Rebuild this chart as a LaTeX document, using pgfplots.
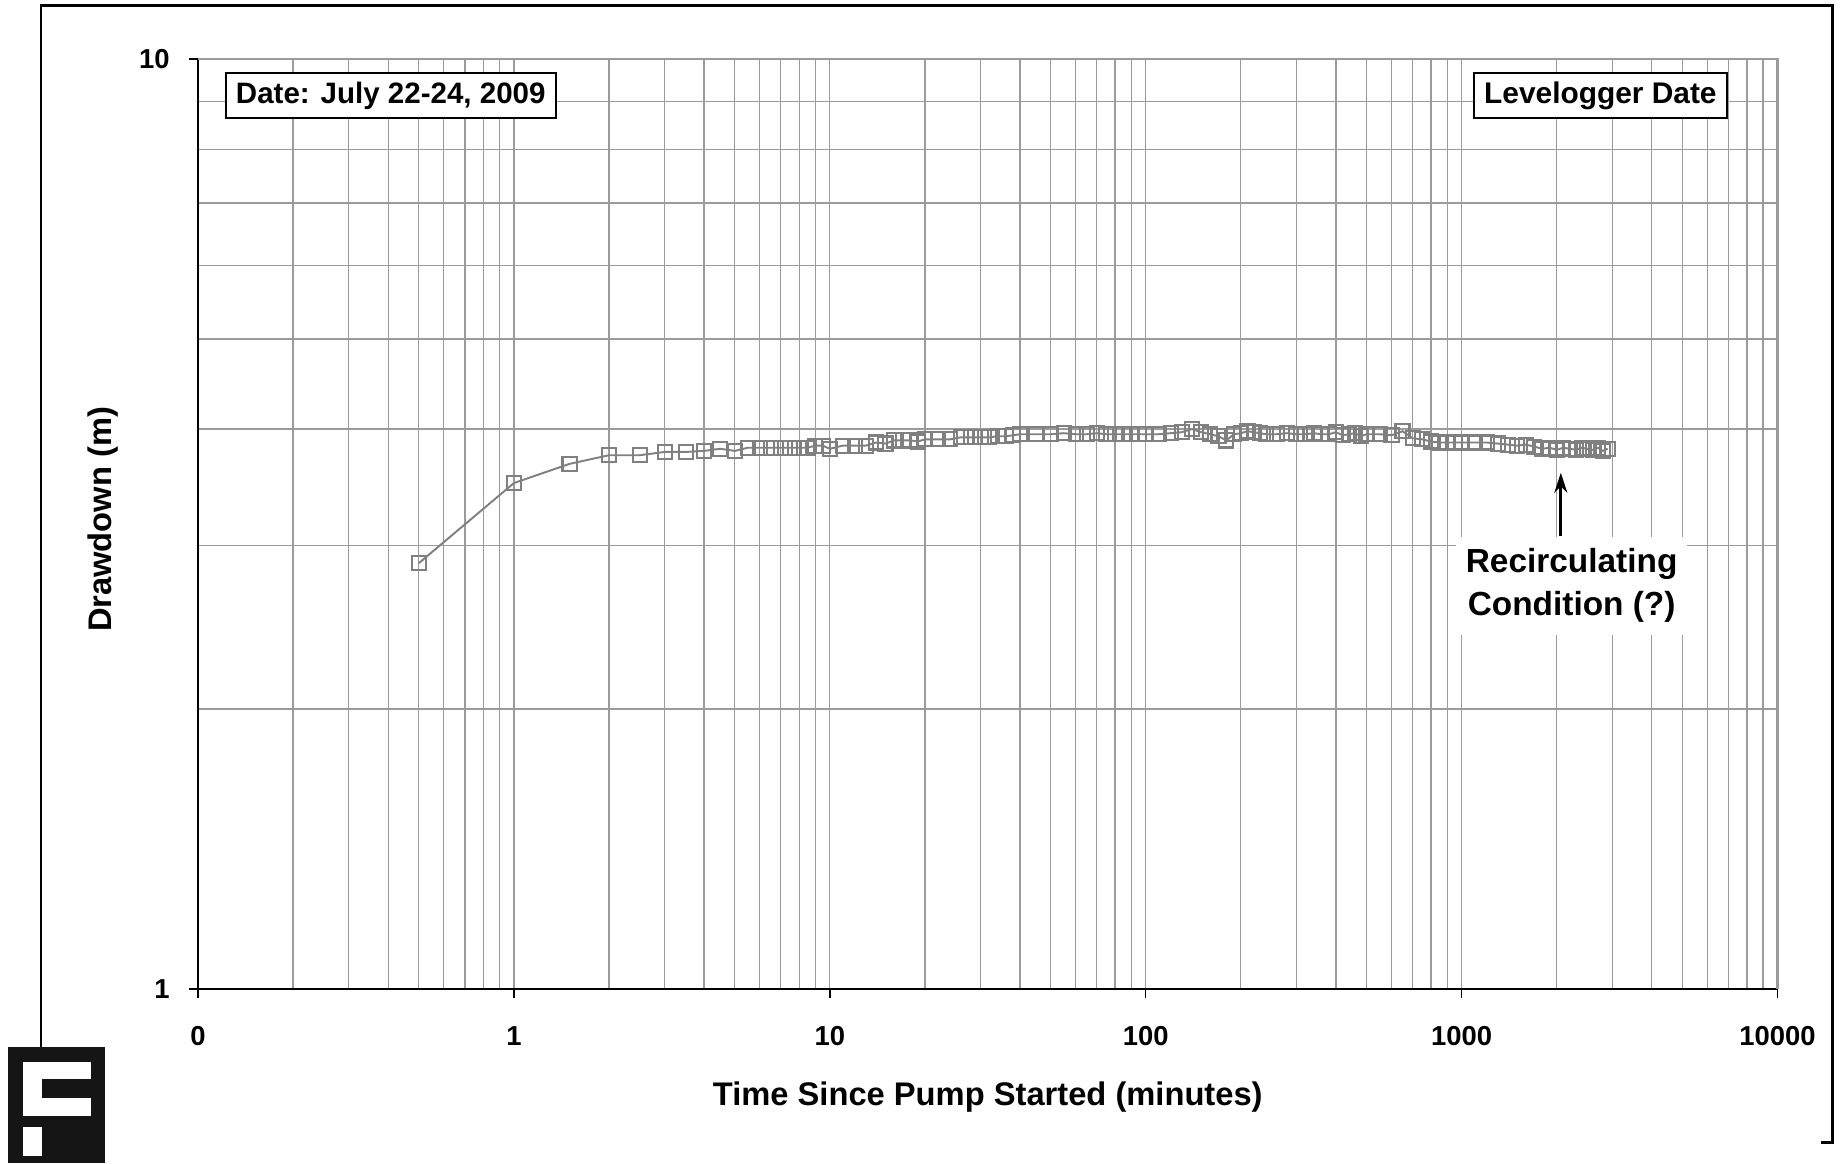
\documentclass[border=0pt]{standalone}
\usepackage{fontspec}
\setmainfont{Liberation Sans}
\usepackage{pgfplots}
\pgfplotsset{compat=1.18}
\usepackage{pgfplotstable}
\usetikzlibrary{arrows.meta}

\definecolor{series}{RGB}{128,128,128}
\definecolor{gridc}{RGB}{155,155,155}
\definecolor{logo}{RGB}{21,21,21}

% time since pump started (min), drawdown (m)
\pgfplotstableread{
t d
0.5 2.87
1 3.50
1.5 3.67
2 3.75
2.5 3.75
3 3.78
3.5 3.78
4 3.79
4.5 3.81
5 3.79
5.5 3.82
6 3.82
6.5 3.82
7 3.82
7.5 3.82
8 3.82
8.5 3.82
9 3.84
9.5 3.84
10 3.81
11 3.84
12 3.84
13 3.84
14 3.87
15 3.86
16 3.89
17 3.89
18 3.89
19 3.88
20 3.90
22 3.90
24 3.90
26 3.92
28 3.92
30 3.92
32 3.92
34 3.93
36 3.93
38 3.94
40 3.95
45 3.95
50 3.95
55 3.96
60 3.95
65 3.95
70 3.96
75 3.95
80 3.95
85 3.95
90 3.95
95 3.95
100 3.95
110 3.95
120 3.96
130 3.97
140 4.00
150 3.97
160 3.95
170 3.93
180 3.89
190 3.95
200 3.96
210 3.98
220 3.97
230 3.96
240 3.95
260 3.95
280 3.96
300 3.95
320 3.95
340 3.96
360 3.95
380 3.95
400 3.97
420 3.94
440 3.95
460 3.96
480 3.93
500 3.95
550 3.95
600 3.94
650 3.98
700 3.91
750 3.90
800 3.88
850 3.87
900 3.87
950 3.87
1000 3.87
1100 3.87
1200 3.87
1300 3.86
1400 3.85
1500 3.84
1600 3.85
1700 3.83
1800 3.81
1900 3.82
2000 3.80
2100 3.82
2200 3.81
2300 3.80
2400 3.82
2500 3.81
2600 3.80
2700 3.82
2800 3.79
2900 3.81
}\drawdown

\begin{document}
\begin{tikzpicture}
\useasboundingbox (-1.98,-1.74) rectangle (16.45,9.89);
\begin{axis}[
    at={(0,0)}, anchor=south west,
    scale only axis, width=15.795cm, height=9.30cm,
    xmode=log, ymode=log,
    xmin=0.1, xmax=10000, ymin=1, ymax=10,
    axis x line*=bottom, axis y line*=left,
    axis line style={black, line width=0.6pt},
    xtick={0.1,1,10,100,1000,10000},
    xticklabels={0,1,10,100,1000,10000},
    ytick={1,10}, yticklabels={1,10},
    tick align=outside, major tick length=0.09cm, minor tick length=0pt,
    tick style={black, line width=0.4pt},
    grid=both,
    major grid style={gridc, line width=0.35pt},
    minor grid style={gridc, line width=0.35pt},
    ticklabel style={font=\fontsize{7.8}{9}\selectfont\bfseries},
    /pgf/number format/assume math mode=true,
    xticklabel style={anchor=north, yshift=-0.16cm},
    yticklabel style={anchor=east, xshift=-0.07cm},
    xlabel={Time Since Pump Started (minutes)},
    ylabel={Drawdown (m)},
    label style={font=\fontsize{9.3}{11}\selectfont\bfseries},
    xlabel style={at={(axis description cs:0.5,0)}, anchor=center, yshift=-1.08cm},
    ylabel style={at={(axis description cs:-0.0601,0.505)}, anchor=center},
    clip=false,
]
\addplot[series, line width=0.55pt, mark=square, mark size=2pt,
    mark options={draw=series, fill=none, line width=0.6pt}] table[x=t, y=d] {\drawdown};

\draw[gridc, line width=0.6pt] (rel axis cs:0,1) -- (rel axis cs:1,1) -- (rel axis cs:1,0);

\node[draw=black, line width=0.55pt, fill=white, anchor=west, minimum height=0.456cm,
    inner xsep=0.1cm, inner ysep=0pt, font=\fontsize{8.4}{10}\selectfont\bfseries]
    at (rel axis cs:0.0171,0.9607) {Date: July 22-24, 2009};
\node[draw=black, line width=0.55pt, fill=white, anchor=east, minimum height=0.456cm,
    inner xsep=0.1cm, inner ysep=0pt, font=\fontsize{8.5}{10}\selectfont\bfseries]
    at (rel axis cs:0.9684,0.9607) {Levelogger Date};

\node[fill=white, anchor=north, align=center, inner xsep=0.1cm, inner ysep=0.12cm,
    font=\fontsize{9.5}{12.2}\selectfont\bfseries]
    at (axis cs:2230,3.07) {Recirculating\\Condition (?)};
\draw[-{Stealth[length=0.2cm,width=0.13cm]}, black, line width=0.8pt]
    (axis cs:2061,3.07) -- (axis cs:2061,3.59);
\end{axis}

% outer frame
\draw[black, line width=0.85pt] (-1.57,-0.58) -- (-1.57,9.83) -- (16.34,9.83) -- (16.34,-1.53) -- (16.23,-1.53);
% logo
\fill[logo] (-1.90,-0.58) rectangle (-0.93,-1.74);
\fill[white] (-1.747,-0.727) rectangle (-1.07,-1.267);
\fill[logo] (-1.563,-0.903) rectangle (-1.06,-1.093);
\fill[white] (-1.747,-1.383) rectangle (-1.563,-1.67);
\end{tikzpicture}
\end{document}
